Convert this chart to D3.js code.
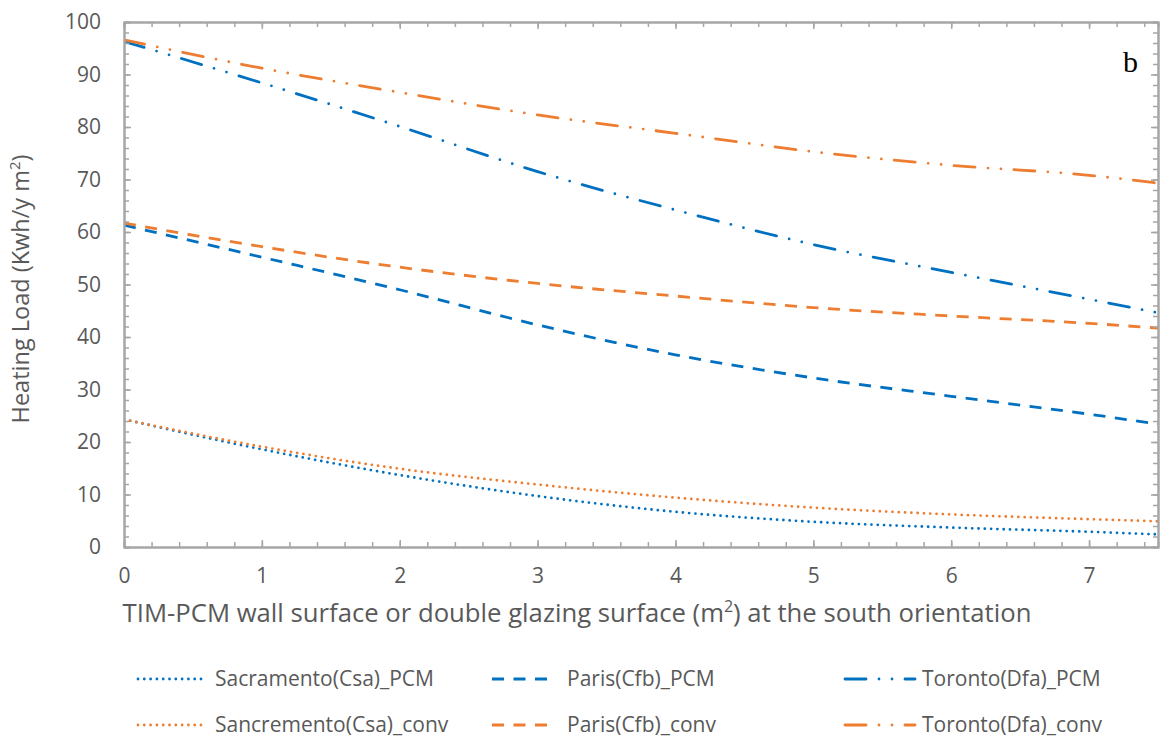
<!DOCTYPE html>
<html lang="en">
<head>
<meta charset="utf-8">
<title>Heating Load vs TIM-PCM surface</title>
<script src="https://d3js.org/d3.v7.min.js"></script>
<style>
  body { margin: 0; background: #fff; }
  text { font-family: "Open Sans", sans-serif; fill: #595959; }
</style>
</head>
<body>
<svg id="chart" width="1167" height="752"></svg>
<script>
// surface (m2) at which values were read
const xValues = [0, 1, 2, 3, 4, 5, 6, 7, 7.5];

const sacramentoPCM  = [24.3, 18.6, 13.7, 9.7, 6.7, 4.8, 3.7, 2.9, 2.4];
const sacramentoConv = [24.3, 19.1, 14.9, 11.9, 9.4, 7.5, 6.2, 5.3, 4.9];
const parisPCM       = [61.3, 55.2, 49.0, 42.3, 36.6, 32.2, 28.7, 25.3, 23.4];
const parisConv      = [61.7, 57.2, 53.3, 50.2, 47.8, 45.6, 44.0, 42.6, 41.7];
const torontoPCM     = [96.3, 88.4, 80.1, 71.5, 64.2, 57.6, 52.3, 47.2, 44.6];
const torontoConv    = [96.6, 91.2, 86.6, 82.3, 78.8, 75.3, 72.7, 70.8, 69.3];

const seriesNames = [
  "Sacramento(Csa)_PCM", "Paris(Cfb)_PCM", "Toronto(Dfa)_PCM",
  "Sancremento(Csa)_conv", "Paris(Cfb)_conv", "Toronto(Dfa)_conv"
];

const xTicks = [0, 1, 2, 3, 4, 5, 6, 7];
const yTicks = [0, 10, 20, 30, 40, 50, 60, 70, 80, 90, 100];

const blue = "#0070c0", orange = "#ed7d31";
const dotted = "0 6.3", dashed = "12 9.5", dashDotDot = "21 13 0 13 0 13";

const series = [
  { name: seriesNames[0], values: sacramentoPCM,  color: blue,   dash: dotted, cap: "round" },
  { name: seriesNames[1], values: parisPCM,       color: blue,   dash: dashed, cap: "butt" },
  { name: seriesNames[2], values: torontoPCM,     color: blue,   dash: dashDotDot, cap: "round" },
  { name: seriesNames[3], values: sacramentoConv, color: orange, dash: dotted, cap: "round" },
  { name: seriesNames[4], values: parisConv,      color: orange, dash: dashed, cap: "butt" },
  { name: seriesNames[5], values: torontoConv,    color: orange, dash: dashDotDot, cap: "round" }
];

const width = 1167, height = 752;
const margin = { top: 22, right: 9, bottom: 205, left: 124 };
const svg = d3.select("#chart");

const x = d3.scaleLinear().domain([0, 7.5]).range([margin.left, width - margin.right]);
const y = d3.scaleLinear().domain([0, 100]).range([height - margin.bottom, margin.top]);

const axisColor = "#a6a6a6";

svg.append("clipPath").attr("id", "plot")
  .append("rect")
  .attr("x", margin.left).attr("y", margin.top - 2)
  .attr("width", width - margin.left - margin.right)
  .attr("height", height - margin.top - margin.bottom + 4);

// lines
const line = d3.line()
  .x((d, i) => x(xValues[i]))
  .y(d => y(d))
  .curve(d3.curveMonotoneX);

svg.append("g").attr("clip-path", "url(#plot)")
  .selectAll("path")
  .data(series)
  .join("path")
  .attr("fill", "none")
  .attr("stroke", d => d.color)
  .attr("stroke-width", 2.8)
  .attr("stroke-dasharray", d => d.dash)
  .attr("stroke-linecap", d => d.cap)
  .attr("d", d => line(d.values));

// axes (box with inward ticks)
function styleAxis(g) {
  g.select(".domain").attr("stroke", axisColor).attr("stroke-width", 2);
  g.selectAll(".tick line").attr("stroke", axisColor).attr("stroke-width", 1.5);
  g.selectAll(".tick text").attr("fill", "#595959")
    .style("font-family", "'Open Sans', sans-serif").style("font-size", "21px");
}

const xMinor = d3.range(0, 7.51, 0.2);
const yMinor = d3.range(0, 101, 2);
const bottomY = height - margin.bottom, rightX = width - margin.right;

// bottom
svg.append("g").attr("transform", `translate(0,${bottomY})`)
  .call(d3.axisBottom(x).tickValues(xMinor).tickSize(-5).tickFormat(""))
  .call(styleAxis);
svg.append("g").attr("transform", `translate(0,${bottomY})`)
  .call(d3.axisBottom(x).tickValues(xTicks).tickSizeInner(-7).tickSizeOuter(0).tickPadding(21).tickFormat(d3.format("d")))
  .call(styleAxis);
// top
svg.append("g").attr("transform", `translate(0,${margin.top})`)
  .call(d3.axisTop(x).tickValues(xMinor).tickSize(-5).tickFormat(""))
  .call(styleAxis);
svg.append("g").attr("transform", `translate(0,${margin.top})`)
  .call(d3.axisTop(x).tickValues(xTicks).tickSizeInner(-7).tickSizeOuter(0).tickFormat(""))
  .call(styleAxis);
// left
svg.append("g").attr("transform", `translate(${margin.left},0)`)
  .call(d3.axisLeft(y).tickValues(yMinor).tickSize(-5).tickFormat(""))
  .call(styleAxis);
svg.append("g").attr("transform", `translate(${margin.left},0)`)
  .call(d3.axisLeft(y).tickValues(yTicks).tickSizeInner(-7).tickSizeOuter(0).tickPadding(23))
  .call(styleAxis);
// right
svg.append("g").attr("transform", `translate(${rightX},0)`)
  .call(d3.axisRight(y).tickValues(yMinor).tickSize(-5).tickFormat(""))
  .call(styleAxis);
svg.append("g").attr("transform", `translate(${rightX},0)`)
  .call(d3.axisRight(y).tickValues(yTicks).tickSizeInner(-7).tickSizeOuter(0).tickFormat(""))
  .call(styleAxis);

// axis titles
const xTitle = svg.append("text")
  .attr("x", 577).attr("y", 622)
  .attr("text-anchor", "middle")
  .style("font-size", "25.7px")
  .text("TIM-PCM wall surface or double glazing surface (m");
xTitle.append("tspan").attr("dy", -10).style("font-size", "16px").text("2");
xTitle.append("tspan").attr("dy", 10).text(") at the south orientation");

const yTitle = svg.append("text")
  .attr("transform", "translate(29,289) rotate(-90)")
  .attr("text-anchor", "middle")
  .style("font-size", "23.5px")
  .text("Heating Load (Kwh/y m");
yTitle.append("tspan").attr("dy", -9).style("font-size", "15px").text("2");
yTitle.append("tspan").attr("dy", 9).text(")");

// panel letter
svg.append("text")
  .attr("x", 1123).attr("y", 72)
  .style("font-family", "'Liberation Serif', serif")
  .style("font-size", "30px")
  .style("fill", "#000")
  .text("b");

// legend
const legendCols = [{ x1: 138, x2: 205, tx: 215 }, { x1: 492, x2: 548, tx: 567 }, { x1: 845, x2: 915, tx: 922 }];
const legendRows = [679, 725];

const legend = svg.append("g")
  .selectAll("g")
  .data(series)
  .join("g")
  .attr("transform", (d, i) => `translate(0,${legendRows[Math.floor(i / 3)]})`);

legend.append("line")
  .attr("x1", (d, i) => legendCols[i % 3].x1)
  .attr("x2", (d, i) => legendCols[i % 3].x2)
  .attr("stroke", d => d.color)
  .attr("stroke-width", 2.8)
  .attr("stroke-dasharray", d => d.dash)
  .attr("stroke-linecap", d => d.cap);

legend.append("text")
  .attr("x", (d, i) => legendCols[i % 3].tx)
  .attr("dy", "0.35em")
  .style("font-size", "21px")
  .text(d => d.name);
</script>
</body>
</html>
